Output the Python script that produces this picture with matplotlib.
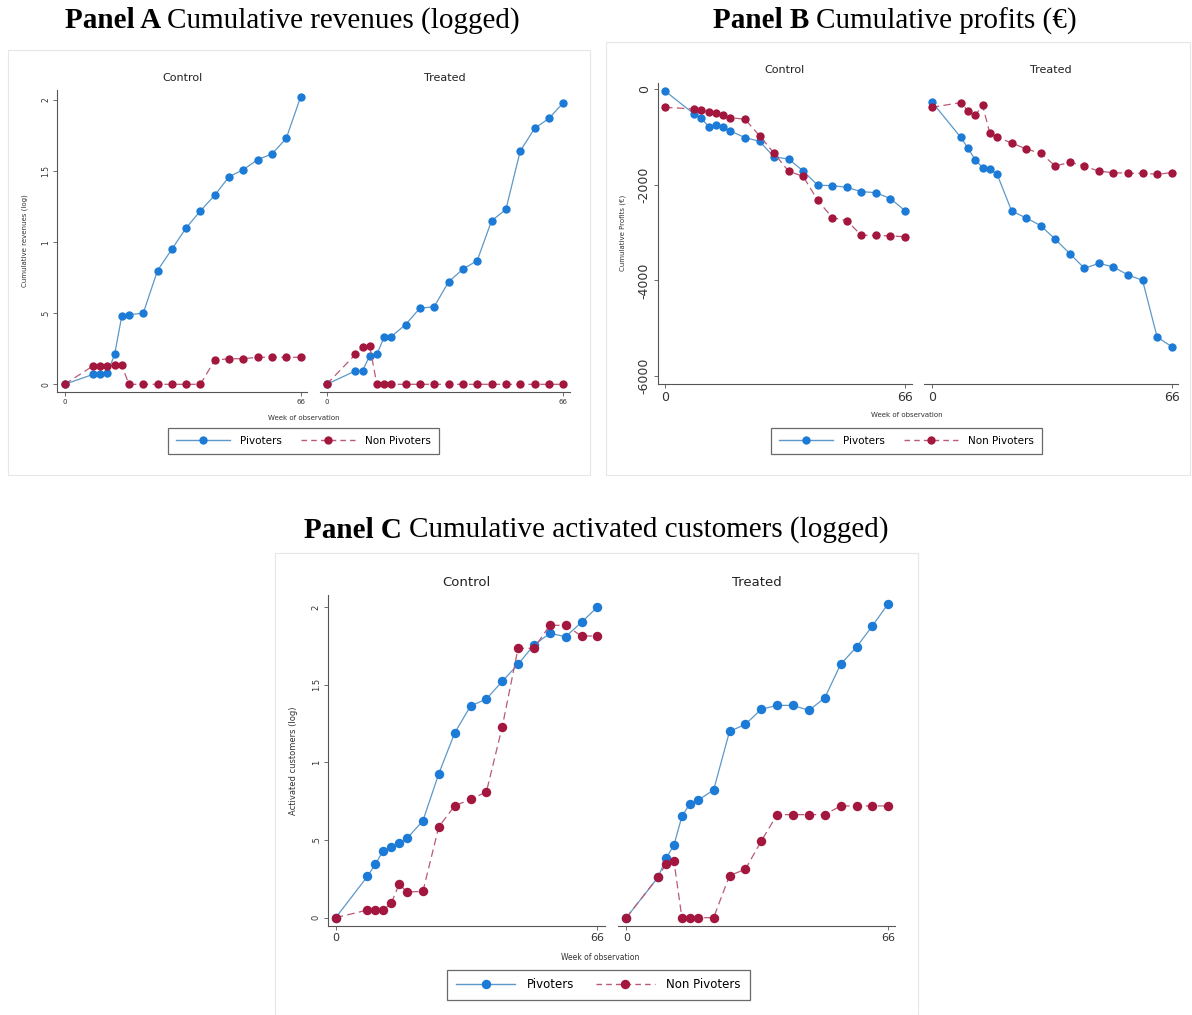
import matplotlib
matplotlib.use("Agg")
import matplotlib.pyplot as plt
from matplotlib.patches import Rectangle
from matplotlib.lines import Line2D

W, H = 1192, 1015

# Week of observation (same grid for every series)
weeks = [0, 8, 10, 12, 14, 16, 18, 22, 26, 30, 34, 38, 42, 46, 50, 54, 58, 62, 66]

# Panel A: cumulative revenues (log)
rev_ctrl_piv = [0, .07, .07, .08, .21, .48, .49, .50, .80, .95, 1.10, 1.22, 1.33, 1.46, 1.51, 1.58, 1.62, 1.73, 2.02]
rev_ctrl_non = [0, .13, .13, .13, .135, .135, 0, 0, 0, 0, 0, 0, .17, .18, .18, .19, .19, .19, .19]
rev_trt_piv = [0, .094, .094, .20, .21, .33, .335, .42, .535, .546, .72, .81, .87, 1.15, 1.23, 1.64, 1.80, 1.87, 1.98]
rev_trt_non = [0, .21, .26, .27, 0, 0, 0, 0, 0, 0, 0, 0, 0, 0, 0, 0, 0, 0, 0]

# Panel B: cumulative profits (EUR)
prof_ctrl_piv = [-35, -516, -607, -781, -746, -795, -872, -1012, -1088, -1416, -1458, -1709, -2009, -2016, -2051, -2142, -2163, -2288, -2539]
prof_ctrl_non = [-377, -412, -433, -474, -502, -544, -593, -628, -970, -1339, -1716, -1821, -2323, -2686, -2749, -3056, -3056, -3070, -3084]
prof_trt_piv = [-258, -1005, -1235, -1479, -1640, -1668, -1779, -2547, -2693, -2854, -3140, -3440, -3747, -3642, -3719, -3886, -3998, -5184, -5386]
prof_trt_non = [-377, -279, -453, -544, -335, -921, -1005, -1123, -1249, -1339, -1605, -1528, -1605, -1716, -1744, -1758, -1758, -1779, -1744]

# Panel C: cumulative activated customers (log)
cust_ctrl_piv = [0, .266, .346, .432, .458, .479, .511, .625, .928, 1.19, 1.364, 1.409, 1.523, 1.633, 1.757, 1.832, 1.811, 1.903, 2.002]
cust_ctrl_non = [0, .049, .049, .049, .092, .217, .165, .17, .586, .72, .763, .81, 1.229, 1.736, 1.736, 1.884, 1.884, 1.815, 1.815]
cust_trt_piv = [0, .26, .382, .468, .653, .733, .756, .823, 1.2, 1.246, 1.343, 1.368, 1.368, 1.336, 1.416, 1.633, 1.744, 1.88, 2.024]
cust_trt_non = [0, .262, .346, .363, 0, 0, 0, 0, .271, .312, .494, .664, .664, .664, .664, .72, .72, .72, .72]

series_names = ["Pivoters", "Non Pivoters"]

BLUE_M, BLUE_L = "#1c7bd6", "#5d98c8"
RED_M, RED_L = "#a3173f", "#b85a78"
AXC = "#555555"
XLIM = (-2, 67.8)

fig = plt.figure(figsize=(W / 100, H / 100), dpi=100)


def rect(left, top, width, height):
    return [left / W, 1 - (top + height) / H, width / W, height / H]


def fxy(x, y):
    return x / W, 1 - y / H


def draw_series(ax, piv, non, ms):
    ax.plot(weeks, piv, color=BLUE_L, lw=0.9, marker="o", ms=ms, mew=0,
            mfc=BLUE_M, zorder=3, clip_on=False)
    ax.plot(weeks, non, color=RED_L, lw=0.9, ls=(0, (6, 3.5)), marker="o", ms=ms, mew=0,
            mfc=RED_M, zorder=4, clip_on=False)


def style_axes(ax, ylim, yticks, ylabels, ytick_fs, xtick_fs, show_y):
    ax.set_xlim(*XLIM)
    ax.set_ylim(*ylim)
    ax.set_facecolor("none")
    for s in ["top", "right"]:
        ax.spines[s].set_visible(False)
    ax.spines["bottom"].set_color(AXC)
    ax.spines["left"].set_color(AXC)
    ax.spines["bottom"].set_linewidth(0.8)
    ax.spines["left"].set_linewidth(0.8)
    ax.set_xticks([0, 66])
    ax.set_xticklabels(["0", "66"])
    ax.tick_params(axis="x", length=3, width=0.6, color=AXC, labelsize=xtick_fs,
                   labelcolor="#333333", pad=2)
    if show_y:
        ax.set_yticks(yticks)
        ax.set_yticklabels(ylabels, rotation=90, va="center")
        ax.tick_params(axis="y", length=3, width=0.6, color=AXC, labelsize=ytick_fs,
                       labelcolor="#333333", pad=2)
    else:
        ax.spines["left"].set_visible(False)
        ax.set_yticks([])


def panel(box, title_xy, bold, rest, title_fs,
          ctrl_rect, trt_rect, data, ylim, yticks, ylabels,
          ytick_fs, xtick_fs, ylabel, ylabel_x, ylabel_fs,
          sub_y, sub_fs, xlabel_xy, xlabel_fs, leg_xy, leg_fs, leg_hl, ms):
    bx0, by0, bx1, by1 = box
    fig.patches.append(Rectangle(fxy(bx0, by1), (bx1 - bx0) / W, (by1 - by0) / H,
                                 transform=fig.transFigure, fill=False,
                                 edgecolor="#e6e6e6", lw=0.8, zorder=-1))
    # panel heading: bold tag + regular description, centred together
    t1 = fig.text(0, 0, bold + " ", fontsize=title_fs, fontweight="bold",
                  family="Liberation Serif", va="center")
    t2 = fig.text(0, 0, rest, fontsize=title_fs, family="Liberation Serif", va="center")
    r = fig.canvas.get_renderer()
    w1 = t1.get_window_extent(r).width
    w2 = t2.get_window_extent(r).width
    x0 = title_xy[0] - (w1 + w2) / 2
    t1.set_position(fxy(x0, title_xy[1]))
    t2.set_position(fxy(x0 + w1, title_xy[1]))

    ax1 = fig.add_axes(rect(*ctrl_rect))
    ax2 = fig.add_axes(rect(*trt_rect))
    draw_series(ax1, data[0], data[1], ms)
    draw_series(ax2, data[2], data[3], ms)
    style_axes(ax1, ylim, yticks, ylabels, ytick_fs, xtick_fs, True)
    style_axes(ax2, ylim, yticks, ylabels, ytick_fs, xtick_fs, False)
    for ax, name, rc in [(ax1, "Control", ctrl_rect), (ax2, "Treated", trt_rect)]:
        fig.text(*fxy(rc[0] + rc[2] / 2, sub_y), name, ha="center", va="center",
                 fontsize=sub_fs, color="#222222")
    fig.text(*fxy(ylabel_x, ctrl_rect[1] + ctrl_rect[3] / 2), ylabel, rotation=90,
             ha="center", va="center", fontsize=ylabel_fs, color="#333333")
    fig.text(*fxy(*xlabel_xy), "Week of observation", ha="center", va="center",
             fontsize=xlabel_fs, color="#333333")
    handles = [
        Line2D([], [], color=BLUE_L, lw=1.0, marker="o", ms=ms, mew=0, mfc=BLUE_M),
        Line2D([], [], color=RED_L, lw=1.0, ls=(0, (4, 3)), marker="o", ms=ms, mew=0,
               mfc=RED_M),
    ]
    leg = fig.legend(handles, series_names, loc="center", bbox_to_anchor=fxy(*leg_xy),
                     fontsize=leg_fs, ncol=2, handlelength=leg_hl, columnspacing=1.8,
                     handletextpad=1.0, fancybox=False, frameon=True,
                     borderpad=0.75, markerscale=1.0)
    leg.get_frame().set_edgecolor("#444444")
    leg.get_frame().set_linewidth(0.9)


# Panel A
panel(box=(8, 50, 590, 475), title_xy=(292, 21), bold="Panel A",
      rest="Cumulative revenues (logged)", title_fs=21,
      ctrl_rect=(57.4, 90.0, 249.6, 301.7), trt_rect=(319.5, 90.0, 250.2, 301.7),
      data=(rev_ctrl_piv, rev_ctrl_non, rev_trt_piv, rev_trt_non),
      ylim=(-0.052, 2.07), yticks=[0, .5, 1, 1.5, 2], ylabels=["0", ".5", "1", "1.5", "2"],
      ytick_fs=5.5, xtick_fs=5, ylabel="Cumulative revenues (log)", ylabel_x=25,
      ylabel_fs=5, sub_y=78, sub_fs=8, xlabel_xy=(304, 418), xlabel_fs=5,
      leg_xy=(303.5, 441), leg_fs=7.5, leg_hl=5.2, ms=6)

# Panel B
panel(box=(606, 42, 1190, 475), title_xy=(895, 21), bold="Panel B",
      rest="Cumulative profits (€)", title_fs=21,
      ctrl_rect=(657.7, 82.6, 253.8, 301.5), trt_rect=(924.4, 82.6, 253.8, 301.5),
      data=(prof_ctrl_piv, prof_ctrl_non, prof_trt_piv, prof_trt_non),
      ylim=(-6170, 140), yticks=[0, -2000, -4000, -6000],
      ylabels=["0", "-2000", "-4000", "-6000"],
      ytick_fs=9, xtick_fs=9, ylabel="Cumulative Profits (€)", ylabel_x=623,
      ylabel_fs=5, sub_y=70, sub_fs=8, xlabel_xy=(907, 415), xlabel_fs=5,
      leg_xy=(906.5, 441), leg_fs=7.5, leg_hl=5.2, ms=6)

# Panel C
panel(box=(275, 553, 918, 1015), title_xy=(596, 530), bold="Panel C",
      rest="Cumulative activated customers (logged)", title_fs=21,
      ctrl_rect=(327.8, 594.9, 276.7, 331.0), trt_rect=(618.4, 594.9, 277.0, 331.0),
      data=(cust_ctrl_piv, cust_ctrl_non, cust_trt_piv, cust_trt_non),
      ylim=(-0.053, 2.08), yticks=[0, .5, 1, 1.5, 2], ylabels=["0", ".5", "1", "1.5", "2"],
      ytick_fs=6, xtick_fs=8, ylabel="Activated customers (log)", ylabel_x=293,
      ylabel_fs=6, sub_y=583, sub_fs=9.5, xlabel_xy=(600, 957), xlabel_fs=5.5,
      leg_xy=(598.5, 985), leg_fs=8.5, leg_hl=5.0, ms=6.8)

fig.savefig("out.png", dpi=100, facecolor="white")
